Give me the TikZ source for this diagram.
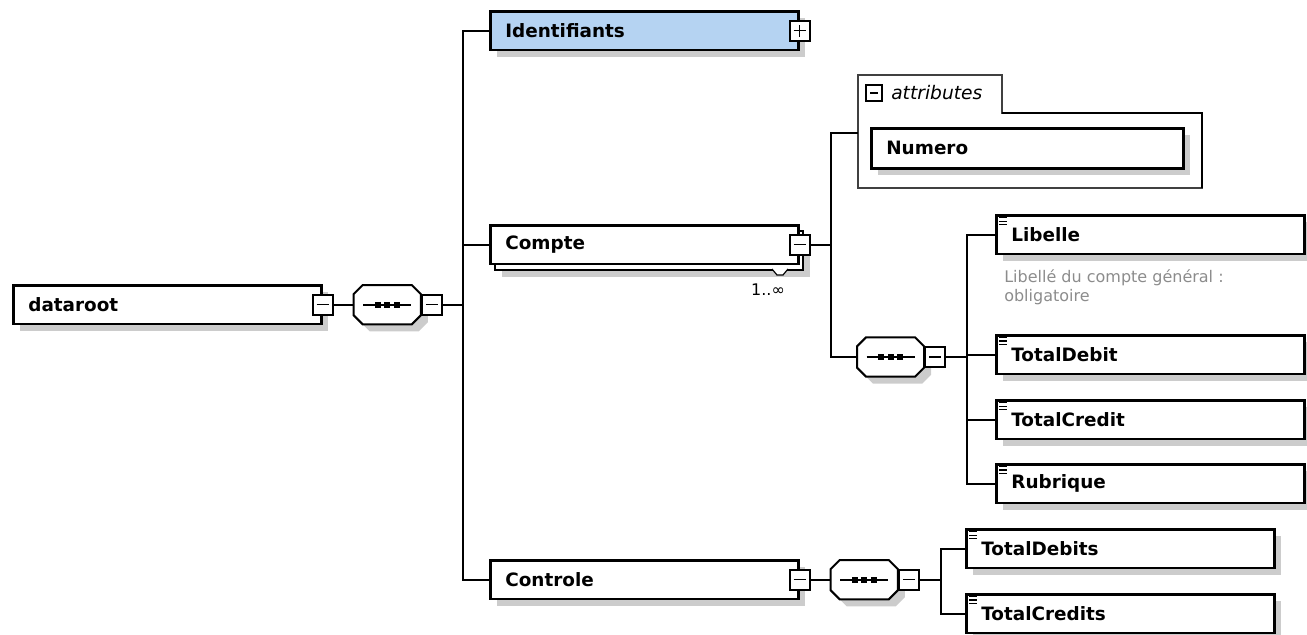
\documentclass[tikz,border=0pt]{standalone}
\usepackage{fontspec}
\setmainfont{DejaVu Sans}
\usetikzlibrary{shadows, positioning, calc}
\definecolor{selblue}{RGB}{181, 211, 242}
\definecolor{shadowgray}{RGB}{204, 204, 204}
\definecolor{notegray}{RGB}{140, 140, 140}
\tikzset{
  conn/.style={line width=1.6pt},
  boxshadow/.style={general shadow={fill=shadowgray, shadow xshift=5.25pt, shadow yshift=-5.25pt}},
  elembase/.style={draw, line width=2pt, fill=white, anchor=north west, minimum height=29pt,
    text width=208.5pt, inner xsep=11.25pt, inner ysep=0pt, align=left,
    font=\fontsize{13.8}{16}\selectfont\bfseries},
  elem/.style={elembase, boxshadow},
  tog/.style={draw, line width=1.5pt, fill=white, minimum size=15pt, inner sep=0pt,
    path picture={\draw[line width=1.2pt] ([xshift=3pt]path picture bounding box.west) -- ([xshift=-3pt]path picture bounding box.east);}},
  togplus/.style={draw, line width=1.5pt, fill=white, minimum size=15pt, inner sep=0pt,
    path picture={\draw[line width=1.2pt] ([xshift=3pt]path picture bounding box.west) -- ([xshift=-3pt]path picture bounding box.east)
      ([yshift=3pt]path picture bounding box.south) -- ([yshift=-3pt]path picture bounding box.north);}},
  seq/.style={anchor=west, minimum width=50pt, minimum height=29pt, inner sep=0pt},
  note/.style={anchor=north west, inner sep=0pt, align=left, text=notegray, font=\fontsize{12}{14.25}\selectfont},
}
% octagon of a sequence compositor
\newcommand{\octpath}[1]{([shift={(0,9)}]#1.north west) -- ([shift={(9,0)}]#1.north west)
  -- ([shift={(-9,0)}]#1.north east) -- ([shift={(0,9)}]#1.north east)
  -- ([shift={(0,-9)}]#1.south east) -- ([shift={(-9,0)}]#1.south east)
  -- ([shift={(9,0)}]#1.south west) -- ([shift={(0,-9)}]#1.south west) -- cycle}
\newcommand{\seqdraw}[1]{%
  \fill[shadowgray, transform canvas={shift={(5.25pt,-5.25pt)}}] \octpath{#1};
  \draw[line width=1.5pt, fill=white] \octpath{#1};
  \draw[line width=1.6pt] ([xshift=-18pt]#1.center) -- ([xshift=18pt]#1.center);
  \foreach \d in {-7,0,7}
    \fill ([xshift=\d pt]#1.center) +(-2.2pt,-2.2pt) rectangle +(2.2pt,2.2pt);}
\newcommand{\elemicon}[2]{%
  \foreach \k in {0,1,2}
    \draw[line width=#2] ([shift={(4,3.5+3.5*\k)}]#1.north west) -- ++(8,0);}

\begin{document}
\begin{tikzpicture}[x=0.75pt, y=-0.75pt]
  \useasboundingbox (0,0) rectangle (1307,635);

  % Root element and its sequence
  \node[elem] (droot) at (12,284) {dataroot};
  \node[tog] (droottog) at (droot.east) {};
  \node[seq] (seq1) at ([xshift=15pt]droottog.east) {};
  \seqdraw{seq1}
  \node[tog, anchor=west] (seq1tog) at (seq1.east) {};
  \draw[conn] (droottog) -- (seq1);

  % First level children
  \node[elem, fill=selblue] (ident) at (489,10) {Identifiants};
  \node[togplus] (identtog) at (ident.east) {};
  \node[elembase, general shadow={fill=shadowgray, shadow xshift=9pt, shadow yshift=-9.75pt},
    copy shadow={draw=black, fill=white, line width=1.6pt, shadow xshift=3.75pt, shadow yshift=-4.5pt}] (compte) at (489,224) {Compte};
  \node[tog] (comptetog) at (compte.east) {};
  \draw[line width=0.9pt, fill=white] (772,269) -- (777,275) -- (783,275) -- (788,269);
  \node[font=\fontsize{12}{14}\selectfont, inner sep=0pt] (compteocc) at (768,290) {1..∞};
  \node[elem] (ctrl) at (489,559) {Controle};
  \node[tog] (ctrltog) at (ctrl.east) {};
  \foreach \t in {ident, compte, ctrl}
    \draw[conn] (seq1tog.east) -- ++(20,0) |- (\t.west);

  % Compte: attributes group
  \draw[line width=1pt, draw=black!75] (858,75) -| (1002,113) -| (1202,188) -| cycle;
  \draw[line width=1.8pt] (1002,113) -| (1202,188);
  \coordinate (attrin) at (858,133);
  \node[tog, minimum size=12pt, line width=1pt] (attrtog) at (874,93) {};
  \node[anchor=west, inner sep=0pt, font=\fontsize{14}{16}\selectfont\itshape] (attrlbl) at (891,93) {attributes};
  \node[elem, text width=211.5pt, minimum height=30pt] (numero) at (870,127) {Numero};

  % Compte: sequence of elements
  \node[seq] (seq2) at (857,357) {};
  \seqdraw{seq2}
  \node[tog, anchor=west] (seq2tog) at (seq2.east) {};
  \draw[conn] (comptetog.east) -- ++(20,0) |- (attrin);
  \draw[conn] (comptetog.east) -- ++(20,0) |- (seq2.west);
  \node[elem] (lib) at (995,214) {Libelle};
  \node[note] (libnote) at (1004,269) {Libellé du compte général :\\obligatoire};
  \node[elem] (tdeb) at (995,334) {TotalDebit};
  \node[elem] (tcred) at (995,399) {TotalCredit};
  \node[elem] (rubr) at (995,463) {Rubrique};
  \foreach \t in {lib, tdeb, tcred, rubr}
    \draw[conn] (seq2tog.east) -- ++(21,0) |- (\t.west);

  % Controle: sequence of elements
  \node[seq] (seq3) at ([xshift=15pt]ctrltog.east) {};
  \seqdraw{seq3}
  \node[tog, anchor=west] (seq3tog) at (seq3.east) {};
  \draw[conn] (ctrltog) -- (seq3);
  \node[elem] (tdebs) at (965,528) {TotalDebits};
  \node[elem] (tcreds) at (965,593) {TotalCredits};
  \foreach \t in {tdebs, tcreds}
    \draw[conn] (seq3tog.east) -- ++(21,0) |- (\t.west);

  % simple content markers
  \elemicon{lib}{0.6pt}
  \elemicon{tdeb}{1.2pt}
  \elemicon{tcred}{0.6pt}
  \elemicon{rubr}{1.2pt}
  \elemicon{tdebs}{0.6pt}
  \elemicon{tcreds}{0.9pt}
\end{tikzpicture}
\end{document}
